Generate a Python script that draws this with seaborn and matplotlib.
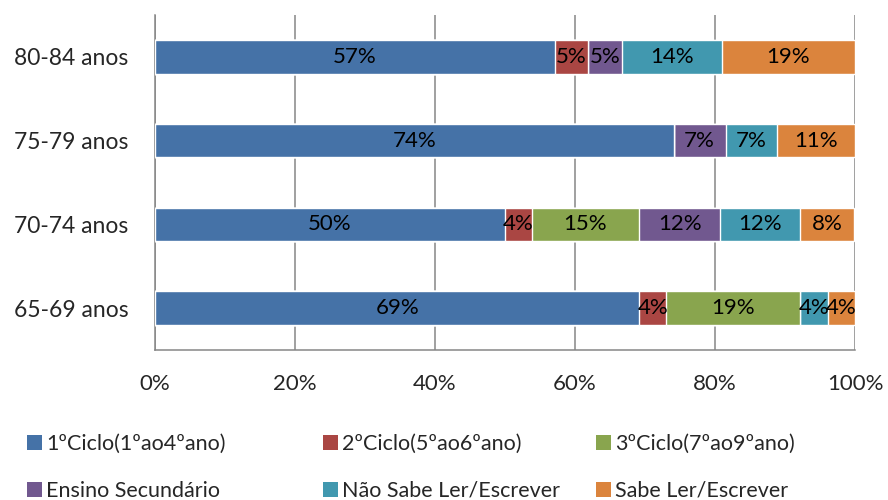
import numpy as np
import pandas as pd
import seaborn as sns
import matplotlib.pyplot as plt
from matplotlib.patches import Patch

# age groups, top to bottom as shown in the chart
groups = ['80-84 anos', '75-79 anos', '70-74 anos', '65-69 anos']

levels = ['1ºCiclo(1ºao4ºano)', '2ºCiclo(5ºao6ºano)', '3ºCiclo(7ºao9ºano)',
          'Ensino Secundário', 'Não Sabe Ler/Escrever', 'Sabe Ler/Escrever']

# percentages per level, in the order of groups
ciclo1 = [57.1, 74.1, 50.0, 69.2]
ciclo2 = [4.8, 0.0, 3.8, 3.8]
ciclo3 = [0.0, 0.0, 15.4, 19.2]
secundario = [4.8, 7.4, 11.5, 0.0]
nao_sabe = [14.3, 7.4, 11.5, 3.9]
sabe = [19.0, 11.1, 7.7, 3.9]

colors = ['#4572A7', '#AA4643', '#89A54E', '#71588F', '#4198AF', '#DB843D']

xticks = [0, 20, 40, 60, 80, 100]


def build_frame():
    df = pd.DataFrame({'grupo': groups})
    for name, vals in zip(levels, [ciclo1, ciclo2, ciclo3, secundario, nao_sabe, sabe]):
        df[name] = vals
    return df


def draw(df):
    sns.set_style('white')
    plt.rcParams['font.family'] = ['Lato', 'DejaVu Sans']
    fs = 16.5

    fig = plt.figure(figsize=(8.88, 5), dpi=100)
    ax = fig.add_axes([155 / 888, 150 / 500, 700 / 888, 335 / 500])

    cum = df[levels].cumsum(axis=1)
    # draw cumulative bars from the widest down so each layer shows its own part
    for name, col in reversed(list(zip(levels, colors))):
        sns.barplot(x=cum[name], y=df['grupo'], order=groups, orient='h',
                    color=col, width=0.4, saturation=1, ax=ax, zorder=3)

    # data labels at the middle of each segment
    for i, g in enumerate(groups):
        left = 0
        for name in levels:
            v = df.loc[i, name]
            if v > 0:
                ax.text(left + v / 2, i, f'{v:.0f}%', ha='center', va='center',
                        fontsize=16, color='black', zorder=4)
            left += v

    ax.set_xlim(0, 100)
    ax.set_ylim(3.5, -0.5)
    ax.set_xticks(xticks)
    ax.set_xticklabels([f'{t}%' for t in xticks], fontsize=16)
    ax.set_xlabel('')
    ax.set_ylabel('')
    ax.set_yticks(range(len(groups)))
    ax.set_yticklabels(groups, fontsize=fs)
    ax.set_yticks(np.arange(-0.5, len(groups)), minor=True)

    ax.grid(axis='x', color='#868686', linewidth=1.1, zorder=0)
    ax.grid(axis='y', visible=False)
    for s in ['top', 'right']:
        ax.spines[s].set_visible(False)
    for s in ['left', 'bottom']:
        ax.spines[s].set_color('#868686')
        ax.spines[s].set_linewidth(1.1)
    ax.tick_params(axis='y', which='major', length=0, pad=19)
    ax.tick_params(axis='y', which='minor', length=5, width=1.1, color='#868686',
                   direction='out')
    ax.tick_params(axis='x', which='major', length=4, width=1.1, color='#868686',
                   direction='out', pad=13)

    # legend laid out in three fixed columns like the original
    col_x = [27, 323, 596]
    for c in range(3):
        idx = [c, c + 3]
        handles = [Patch(facecolor=colors[k], edgecolor='none') for k in idx]
        fig.legend(handles, [levels[k] for k in idx], loc='upper left',
                   bbox_to_anchor=(col_x[c] / 888, 1 - 434 / 500), frameon=False,
                   fontsize=15.5, handlelength=0.7, handleheight=0.7,
                   handletextpad=0.2, labelspacing=1.25, borderaxespad=0,
                   borderpad=0)

    fig.savefig('out.png', dpi=100)


draw(build_frame())
